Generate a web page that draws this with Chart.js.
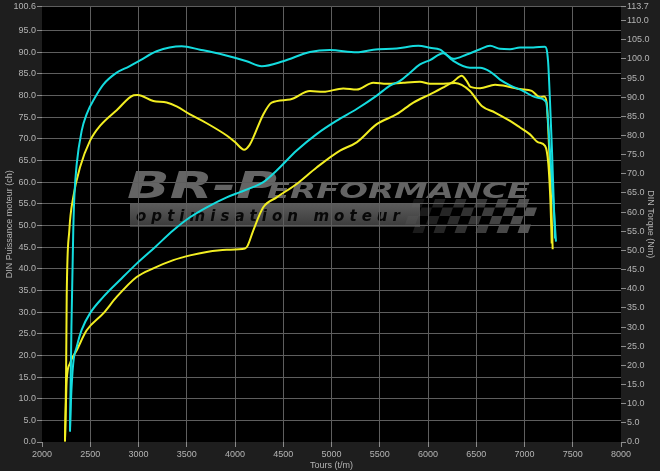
<!DOCTYPE html>
<html>
<head>
<meta charset="utf-8">
<script src="https://cdn.jsdelivr.net/npm/chart.js@4.4.0/dist/chart.umd.min.js"></script>
<style>
  html, body { margin: 0; padding: 0; background: #1e1e1e; }
  #wrap { width: 660px; height: 471px; }
</style>
</head>
<body>
<div id="wrap"><canvas id="dyno" width="660" height="471"></canvas></div>
<script>
// 目盛り
const rpmTicks = [2000, 2500, 3000, 3500, 4000, 4500, 5000, 5500, 6000, 6500, 7000, 7500, 8000];
const powerTicks = [0, 5, 10, 15, 20, 25, 30, 35, 40, 45, 50, 55, 60, 65, 70, 75, 80, 85, 90, 95, 100.6];
const torqueTicks = [0, 5, 10, 15, 20, 25, 30, 35, 40, 45, 50, 55, 60, 65, 70, 75, 80, 85, 90, 95, 100, 105, 110, 113.7];

// 後 (シアン) 出力 ch
const rpmPowerAfter = [2290, 2300, 2324, 2360, 2411, 2497, 2635, 2808, 2981, 3171, 3361, 3534, 3707, 3914, 4052,
  4180, 4293, 4432, 4639, 4846, 5054, 5261, 5469, 5606, 5710, 5814, 5917, 6021, 6159, 6262,
  6401, 6539, 6643, 6746, 6850, 6953, 7091, 7212, 7244, 7264, 7285, 7316];
const powerAfter = [2.4, 9.5, 18.2, 22.0, 25.9, 29.7, 33.5, 37.4, 41.2, 45.0, 48.9, 51.9, 54.2, 56.5, 57.7,
  58.8, 60.0, 62.7, 67.3, 71.1, 74.2, 76.9, 80.0, 82.3, 83.4, 85.3, 87.2, 88.2, 89.8, 88.5,
  89.5, 90.7, 91.5, 90.8, 90.7, 91.1, 91.1, 91.3, 88.0, 78.8, 67.3, 47.0];

// 後 (シアン) トルク Nm
const rpmTorqueAfter = [2290, 2305, 2324, 2335, 2360, 2411, 2463, 2549, 2635, 2774, 2900, 3016, 3188, 3448, 3637,
  3879, 4121, 4277, 4500, 4777, 4984, 5261, 5433, 5676, 5900, 6021, 6125, 6262, 6435, 6539,
  6643, 6746, 6850, 6988, 7127, 7223, 7264, 7326];
const torqueAfter = [2.8, 30.0, 55.2, 63.9, 72.6, 81.2, 85.6, 89.9, 93.3, 96.4, 98.0, 99.6, 102.0, 103.3, 102.4,
  101.1, 99.4, 98.1, 99.4, 101.8, 102.3, 101.7, 102.4, 102.7, 103.4, 102.9, 102.4, 99.5, 97.7, 97.7,
  96.7, 94.6, 93.1, 91.6, 89.9, 88.8, 76.0, 52.3];

// 前 (黄) 出力 ch
const rpmPowerBefore = [2238, 2249, 2256, 2290, 2360, 2463, 2635, 2774, 2981, 3153, 3361, 3534, 3707, 3914, 4104,
  4130, 4190, 4293, 4432, 4639, 4846, 5088, 5261, 5469, 5676, 5848, 6021, 6159, 6260, 6349,
  6400, 6440, 6539, 6695, 6850, 6953, 7075, 7161, 7203, 7230, 7247, 7270, 7292];
const powerBefore = [0.1, 9.7, 14.3, 18.2, 21.2, 25.8, 29.7, 33.5, 38.1, 40.1, 42.0, 43.1, 43.9, 44.4, 44.7,
  45.3, 48.9, 54.2, 56.5, 59.6, 63.4, 67.3, 69.2, 73.4, 75.7, 78.4, 80.3, 81.9, 83.2, 84.6,
  83.4, 82.0, 81.7, 82.5, 82.0, 81.5, 81.1, 79.6, 79.8, 78.4, 71.9, 60.0, 44.5];

// 前 (黄) トルク Nm
const rpmTorqueBefore = [2238, 2249, 2256, 2283, 2324, 2394, 2497, 2601, 2774, 2950, 2990, 3153, 3292, 3395, 3534,
  3707, 3914, 4000, 4095, 4150, 4190, 4293, 4380, 4570, 4777, 4915, 5122, 5261, 5433, 5572,
  5744, 5917, 6021, 6125, 6280, 6349, 6435, 6557, 6695, 6850, 6953, 7057, 7143, 7213, 7247,
  7270, 7282];
const torqueBefore = [0.2, 16.2, 37.9, 55.2, 63.9, 71.7, 78.6, 82.5, 86.6, 90.5, 90.6, 89.0, 88.6, 87.6, 85.5,
  83.2, 80.0, 78.3, 76.3, 77.5, 79.5, 85.5, 88.6, 89.4, 91.6, 91.4, 92.3, 92.0, 93.8, 93.5,
  93.8, 94.0, 93.5, 93.5, 93.7, 93.2, 91.6, 87.7, 86.0, 83.8, 82.1, 80.3, 78.2, 77.3, 72.6,
  62.0, 51.8];

const cyan = '#14dcdf';
const yellow = '#f2ee22';
const gridColor = '#5e5e5e';
const textColor = '#b4b4b4';
const tickFont = { family: 'Arial, "Liberation Sans", sans-serif', size: 9 };

const toPoints = (xs, ys) => xs.map((x, i) => ({ x: x, y: ys[i] }));

// 文字を指定幅に横伸ばしして描く
function fitText(ctx, text, font, x, y, width) {
  ctx.font = font;
  const w = ctx.measureText(text).width;
  ctx.save();
  ctx.translate(x, y);
  ctx.scale(width / w, 1);
  ctx.fillText(text, 0, 0);
  ctx.restore();
}

// 文字間隔を広げて描く
function spacedText(ctx, text, x, y, width) {
  const chars = text.split('');
  const widths = chars.map(c => ctx.measureText(c).width);
  const total = widths.reduce((a, b) => a + b, 0);
  const gap = (width - total) / (chars.length - 1);
  let cx = x;
  chars.forEach((c, i) => {
    ctx.fillText(c, cx, y);
    cx += widths[i] + gap;
  });
}

// 背景とロゴ
const backdrop = {
  id: 'backdrop',
  beforeDraw(chart) {
    const { ctx, chartArea: a } = chart;
    ctx.save();
    ctx.fillStyle = '#1e1e1e';
    ctx.fillRect(0, 0, chart.width, chart.height);
    ctx.fillStyle = '#000';
    ctx.fillRect(a.left, a.top, a.right - a.left, a.bottom - a.top);

    // 帯
    const band = ctx.createLinearGradient(0, 203, 0, 227);
    band.addColorStop(0, '#5c5c5c');
    band.addColorStop(1, '#3a3a3a');
    ctx.fillStyle = band;
    ctx.fillRect(130, 203, 290, 24);

    // チェッカーフラッグ
    for (let c = 0; c < 12; c++) {
      for (let r = 0; r < 4; r++) {
        if ((c + r) % 2) continue;
        const alpha = 0.2 + 0.6 * c / 11;
        ctx.fillStyle = `rgba(105,105,105,${alpha})`;
        const x = 414 + c * 10.5 - r * 3;
        const y = 199 + r * 8.5;
        ctx.beginPath();
        ctx.moveTo(x, y);
        ctx.lineTo(x + 10.5, y);
        ctx.lineTo(x + 7.5, y + 8.5);
        ctx.lineTo(x - 3, y + 8.5);
        ctx.closePath();
        ctx.fill();
      }
    }

    // BR-Performance
    const g = ctx.createLinearGradient(0, 168, 0, 200);
    g.addColorStop(0, '#646464');
    g.addColorStop(1, '#2a2a2a');
    ctx.fillStyle = g;
    ctx.textBaseline = 'alphabetic';
    ctx.textAlign = 'left';
    fitText(ctx, 'BR-P', 'italic bold 38px "DejaVu Sans"', 127, 198, 150);
    fitText(ctx, 'ERFORMANCE', 'italic bold 22px "DejaVu Sans"', 267, 198, 263);

    ctx.fillStyle = '#080808';
    ctx.font = 'italic bold 15px "DejaVu Sans"';
    spacedText(ctx, 'optimisation moteur', 136, 221, 264);
    ctx.restore();
  }
};

new Chart(document.getElementById('dyno'), {
  type: 'line',
  data: {
    datasets: [
      { label: 'Puissance après', data: toPoints(rpmPowerAfter, powerAfter), yAxisID: 'y', borderColor: cyan },
      { label: 'Couple après', data: toPoints(rpmTorqueAfter, torqueAfter), yAxisID: 'y1', borderColor: cyan },
      { label: 'Puissance avant', data: toPoints(rpmPowerBefore, powerBefore), yAxisID: 'y', borderColor: yellow },
      { label: 'Couple avant', data: toPoints(rpmTorqueBefore, torqueBefore), yAxisID: 'y1', borderColor: yellow }
    ]
  },
  options: {
    responsive: false,
    animation: false,
    devicePixelRatio: 1,
    layout: { padding: 0 },
    elements: {
      point: { radius: 0 },
      line: { borderWidth: 2, cubicInterpolationMode: 'monotone', fill: false }
    },
    plugins: {
      legend: { display: false },
      tooltip: { enabled: false }
    },
    scales: {
      x: {
        type: 'linear',
        min: 2000,
        max: 8000,
        afterBuildTicks: s => { s.ticks = rpmTicks.map(v => ({ value: v })); },
        afterFit: s => { s.height = 29; },
        grid: { color: c => (c.index === 0 || c.index === rpmTicks.length - 1) ? 'transparent' : gridColor, tickColor: '#8c8c8c', tickLength: 5 },
        border: { display: false },
        ticks: { color: textColor, font: tickFont, maxRotation: 0, autoSkip: false, padding: 2, callback: v => String(v) },
        title: { display: true, text: 'Tours (t/m)', color: textColor, font: tickFont, padding: 0 }
      },
      y: {
        position: 'left',
        min: 0,
        max: 100.6,
        afterBuildTicks: s => { s.ticks = powerTicks.map(v => ({ value: v })); },
        afterFit: s => { s.width = 42; },
        grid: { color: c => c.index === 0 ? 'transparent' : gridColor, tickColor: '#8c8c8c', tickLength: 5 },
        border: { display: false },
        ticks: { color: textColor, font: tickFont, autoSkip: false, padding: 1, callback: v => v.toFixed(1) },
        title: { display: true, text: 'DIN Puissance moteur (ch)', color: textColor, font: tickFont, padding: { top: 4, bottom: 0 } }
      },
      y1: {
        position: 'right',
        min: 0,
        max: 113.7,
        afterBuildTicks: s => { s.ticks = torqueTicks.map(v => ({ value: v })); },
        afterFit: s => { s.width = 39; },
        grid: { drawOnChartArea: false, tickColor: '#8c8c8c', tickLength: 5 },
        border: { display: false },
        ticks: { color: textColor, font: tickFont, autoSkip: false, padding: 1, callback: v => v.toFixed(1) },
        title: { display: true, text: 'DIN Torque (Nm)', color: textColor, font: tickFont, padding: { top: 4, bottom: 0 } }
      }
    }
  },
  plugins: [backdrop]
});
</script>
</body>
</html>
